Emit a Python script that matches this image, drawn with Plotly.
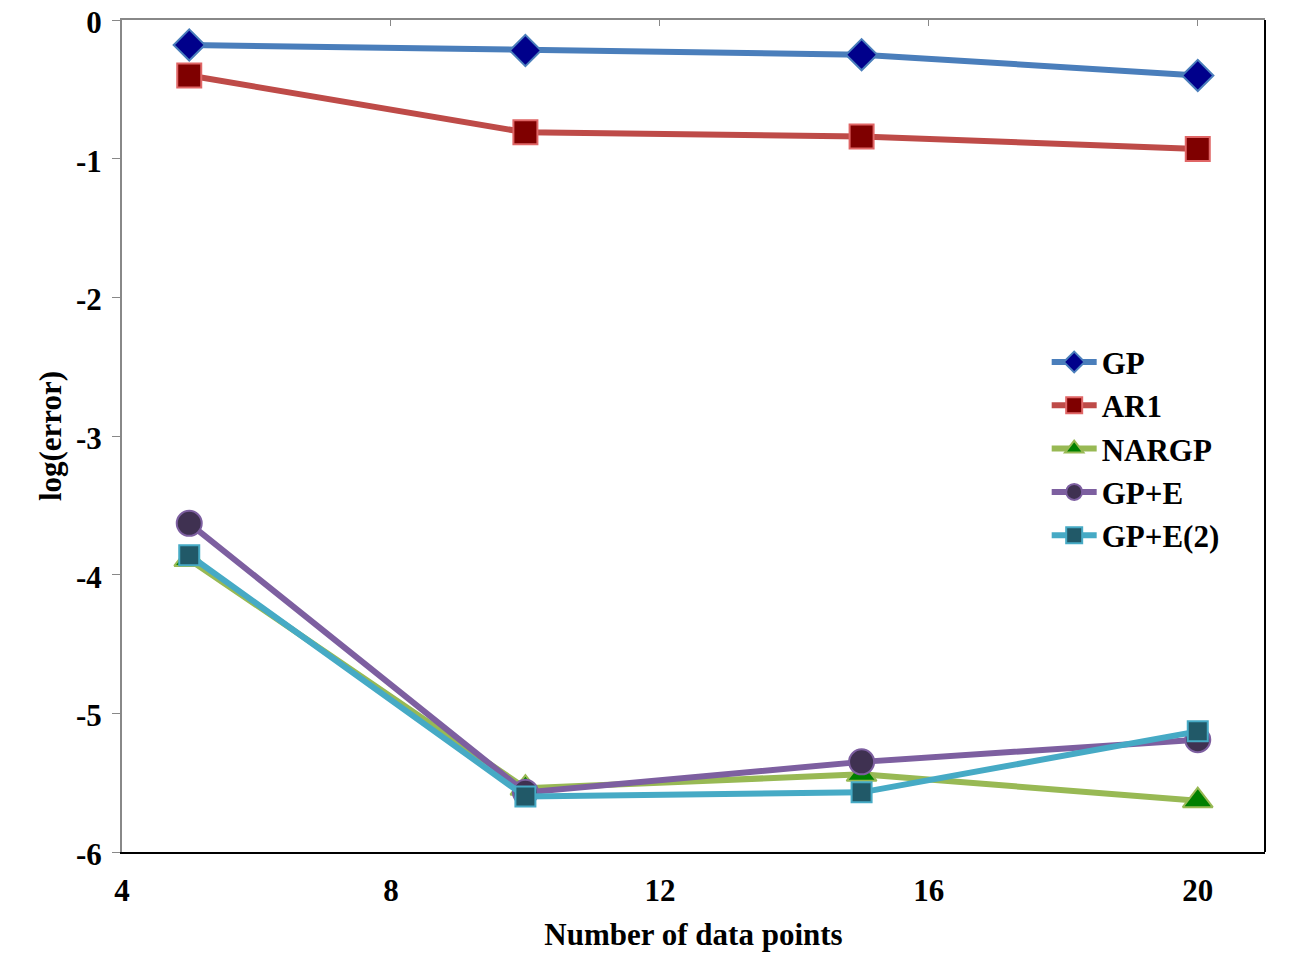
import plotly.graph_objects as go

# --- data ---
n_points = [5, 10, 15, 20]
gp = [-0.18, -0.22, -0.25, -0.40]
ar1 = [-0.40, -0.81, -0.84, -0.93]
nargp = [-3.89, -5.54, -5.44, -5.63]
gp_e = [-3.63, -5.57, -5.35, -5.19]
gp_e2 = [-3.86, -5.60, -5.57, -5.13]

x_ticks = [4, 8, 12, 16, 20]
y_ticks = [0, -1, -2, -3, -4, -5, -6]

font_name = "Liberation Serif"

# name, values, line colour, marker symbol, marker fill, marker outline, size
series = [
    ("GP", gp, "#4A7EBB", "diamond", "#00008B", "#4A7EBB", 24),
    ("AR1", ar1, "#BE4B48", "square", "#7F0000", "#E06666", 24),
    ("NARGP", nargp, "#98B954", "triangle-up", "#008000", "#98B954", 26),
    ("GP+E", gp_e, "#7D5FA0", "circle", "#3F3151", "#7D5FA0", 25),
    ("GP+E(2)", gp_e2, "#46AAC5", "square", "#215968", "#46AAC5", 20),
]

fig = go.Figure()
for name, vals, lc, sym, fill, edge, size in series:
    fig.add_trace(go.Scatter(
        x=n_points, y=vals, name="<b>%s</b>" % name, mode="lines+markers",
        line=dict(color=lc, width=6),
        marker=dict(symbol=sym, size=size, color=fill, line=dict(color=edge, width=2)),
    ))

# dummy trace so the top axis (gray, inward ticks, no labels) is drawn
fig.add_trace(go.Scatter(x=[4], y=[0], xaxis="x2", showlegend=False,
                         mode="markers", marker=dict(opacity=0), hoverinfo="skip"))

tick_font = dict(family=font_name, size=31, color="black")

fig.update_layout(
    width=1299, height=964,
    paper_bgcolor="white", plot_bgcolor="white",
    margin=dict(l=122, r=34, t=20, b=112),
    font=dict(family=font_name, color="black"),
    xaxis=dict(
        range=[4, 21], tickvals=x_ticks, ticktext=["<b>%d</b>" % v for v in x_ticks],
        showgrid=False, zeroline=False, showline=True, linecolor="black", linewidth=2,
        ticks="", tickfont=tick_font, automargin=False, ticklabelstandoff=10,
        ticklabeloverflow="allow",
        title=dict(text="<b>Number of data points</b>", font=dict(family=font_name, size=31), standoff=16),
    ),
    xaxis2=dict(
        range=[4, 21], tickvals=x_ticks, overlaying="x", side="top", anchor="y",
        showgrid=False, zeroline=False, showline=True, linecolor="#888888", linewidth=2,
        ticks="inside", ticklen=6, tickcolor="#888888", showticklabels=False, automargin=False,
    ),
    yaxis=dict(
        range=[-6, 0], tickvals=y_ticks, ticktext=["<b>%d</b>" % v for v in y_ticks],
        showgrid=False, zeroline=False, showline=True, linecolor="#888888", linewidth=2,
        ticks="outside", ticklen=8, tickcolor="#888888", tickfont=tick_font, automargin=False,
        ticklabelstandoff=4, ticklabeloverflow="allow", ticklabelshift=2,
        title=dict(text="<b>log(error)</b>", font=dict(family=font_name, size=31), standoff=5),
    ),
    legend=dict(
        x=0.809, y=0.621, xanchor="left", yanchor="top",
        font=dict(family=font_name, size=31, color="black"),
        bgcolor="rgba(0,0,0,0)", itemwidth=45, tracegroupgap=0,
    ),
    shapes=[dict(type="line", xref="paper", yref="paper", x0=1, x1=1, y0=0, y1=1,
                 line=dict(color="black", width=2))],
)

# drop the page's default 8px body margin so the figure sits at the window corner
fig.write_html("out.html", config={"displayModeBar": False},
               post_script="document.body.style.margin = '0';")
